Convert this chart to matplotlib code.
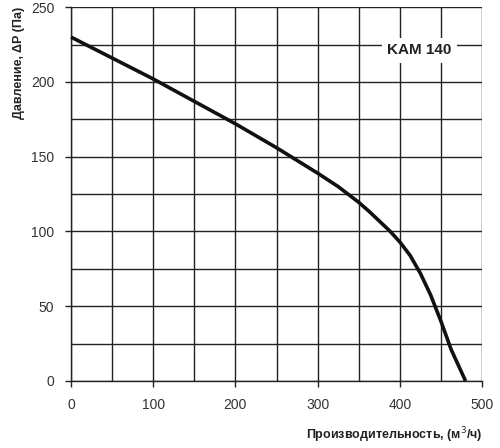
import matplotlib
matplotlib.use("Agg")
import matplotlib.pyplot as plt
import numpy as np

flow = [0, 25, 50, 75, 100, 125, 150, 175, 200, 225, 250, 275, 300, 325, 350, 362.5, 375,
        387.5, 400, 412.5, 425, 437.5, 450, 462.5, 480]
pressure = [230, 223, 216, 209, 202, 194.5, 187, 179.5, 172, 164, 156, 147.5, 139, 130, 119.5, 113.5, 107,
            100.5, 93, 84, 72, 57.5, 40, 21, 0]
x_ticks = [0, 100, 200, 300, 400, 500]
y_ticks = [0, 50, 100, 150, 200, 250]
title = "KAM 140"

plt.rcParams['font.family'] = ['Liberation Sans', 'DejaVu Sans']

fig = plt.figure(figsize=(5, 4.48), dpi=100)
ax = fig.add_axes([0.142, 0.1496, 0.822, 0.8344])
ax.set_xlim(0, 500)
ax.set_ylim(0, 250)
ax.set_xticks(x_ticks)
ax.set_yticks(y_ticks)
ax.set_xticks(np.arange(0, 501, 50), minor=True)
ax.set_yticks(np.arange(0, 251, 25), minor=True)
ax.grid(True, which='both', color='#222222', linewidth=1.0)
ax.tick_params(which='minor', length=0)
ax.tick_params(which='major', length=4, width=1, color='#222222', labelsize=10, labelcolor='#333333', pad=8)
for s in ['top', 'right']:
    ax.spines[s].set_visible(False)
for s in ['left', 'bottom']:
    ax.spines[s].set_color('#222222')
    ax.spines[s].set_linewidth(1.0)
ax.set_axisbelow(True)

ax.plot(flow, pressure, color='#111111', linewidth=2.6, solid_capstyle='butt',
        solid_joinstyle='round', clip_on=False, zorder=3)

ax.text(0.848, 0.885, title, transform=ax.transAxes, ha='center', va='center',
        fontsize=11, fontweight='bold', color='#222222',
        bbox=dict(facecolor='white', edgecolor='none', pad=4), zorder=4)

ax.set_xlabel("Производительность, (м$^3$/ч)", fontsize=9, fontweight='bold', color='#222222', loc='right', labelpad=10)
ax.set_ylabel("Давление, ΔP (Па)", fontsize=9, fontweight='bold', color='#222222', loc='top', labelpad=4)

fig.savefig("out.png", dpi=100, facecolor='white')
